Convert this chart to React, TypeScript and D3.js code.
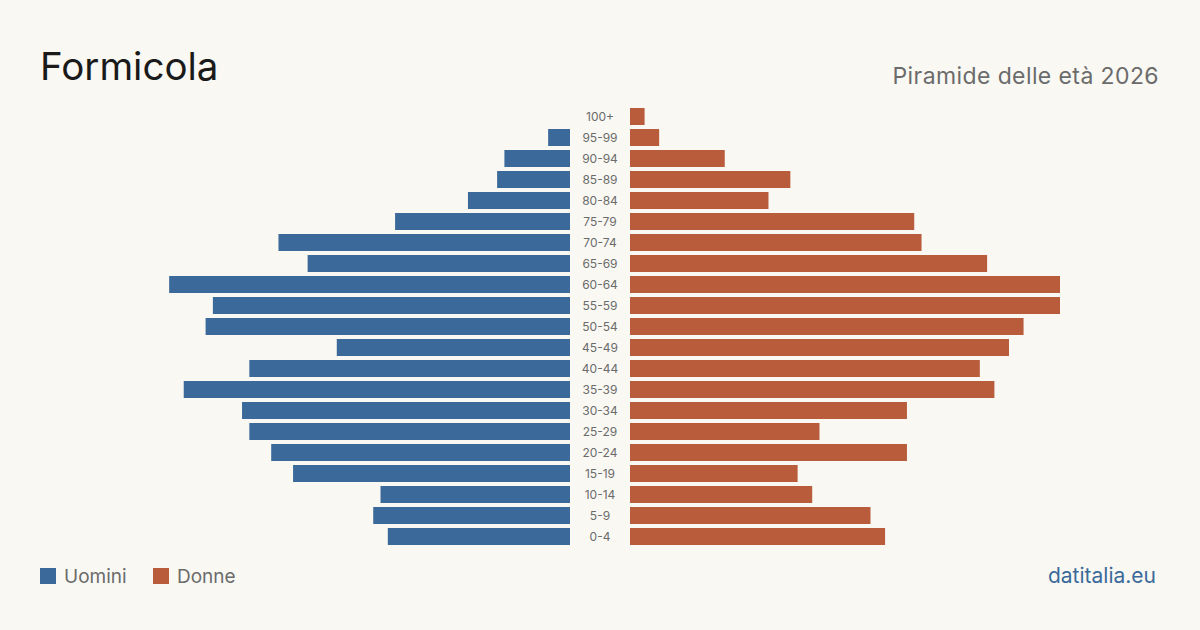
import React from "react";
import * as d3 from "d3";

const ageGroups = [
  "100+", "95-99", "90-94", "85-89", "80-84", "75-79", "70-74", "65-69",
  "60-64", "55-59", "50-54", "45-49", "40-44", "35-39", "30-34", "25-29",
  "20-24", "15-19", "10-14", "5-9", "0-4",
];
const men = [0, 3, 9, 10, 14, 24, 40, 36, 55, 49, 50, 32, 44, 53, 45, 44, 41, 38, 26, 27, 25];
const women = [2, 4, 13, 22, 19, 39, 40, 49, 59, 59, 54, 52, 48, 50, 38, 26, 38, 23, 25, 33, 35];

const W = 1200;
const H = 630;
const BLUE = "#3b6a9a";
const ORANGE = "#b85c3c";
const FONT = "Inter, 'Liberation Sans', sans-serif";

export default function App() {
  const center = 600;
  const gap = 30;
  const maxVal = d3.max([...men, ...women]) as number;
  const x = d3.scaleLinear().domain([0, maxVal]).range([0, 430]);
  const y = d3.scaleBand().domain(ageGroups).range([106, 547]).paddingInner(4 / 21).paddingOuter(2 / 21);

  return (
    <svg width={W} height={H} style={{ position: "fixed", left: 0, top: 0, display: "block" }}>
      <rect width={W} height={H} fill="#f9f8f3" />
      <text x={40} y={80} fontFamily={FONT} fontSize={38.5} fill="#1a1a1a">Formicola</text>
      <text x={1159} y={84} textAnchor="end" fontFamily={FONT} fontSize={23} letterSpacing={0.4} fill="#6b6b6b">Piramide delle età 2026</text>

      {ageGroups.map((g, i) => {
        const yy = y(g) as number;
        const bh = y.bandwidth();
        return (
          <g key={g}>
            {men[i] > 0 && (
              <rect x={center - gap - x(men[i])} y={yy} width={x(men[i])} height={bh} fill={BLUE} />
            )}
            {women[i] > 0 && (
              <rect x={center + gap} y={yy} width={x(women[i])} height={bh} fill={ORANGE} />
            )}
            <text x={center} y={yy + bh / 2} dy="0.35em" textAnchor="middle" fontFamily={FONT} fontSize={12} fill="#6b6b6b">{g}</text>
          </g>
        );
      })}

      <rect x={40} y={568} width={16} height={16} fill={BLUE} />
      <text x={64} y={583} fontFamily={FONT} fontSize={19} fill="#6b6b6b">Uomini</text>
      <rect x={153} y={568} width={16} height={16} fill={ORANGE} />
      <text x={177} y={583} fontFamily={FONT} fontSize={19} fill="#6b6b6b">Donne</text>
      <text x={1156} y={583} textAnchor="end" fontFamily={FONT} fontSize={21} fill={BLUE}>datitalia.eu</text>
    </svg>
  );
}
